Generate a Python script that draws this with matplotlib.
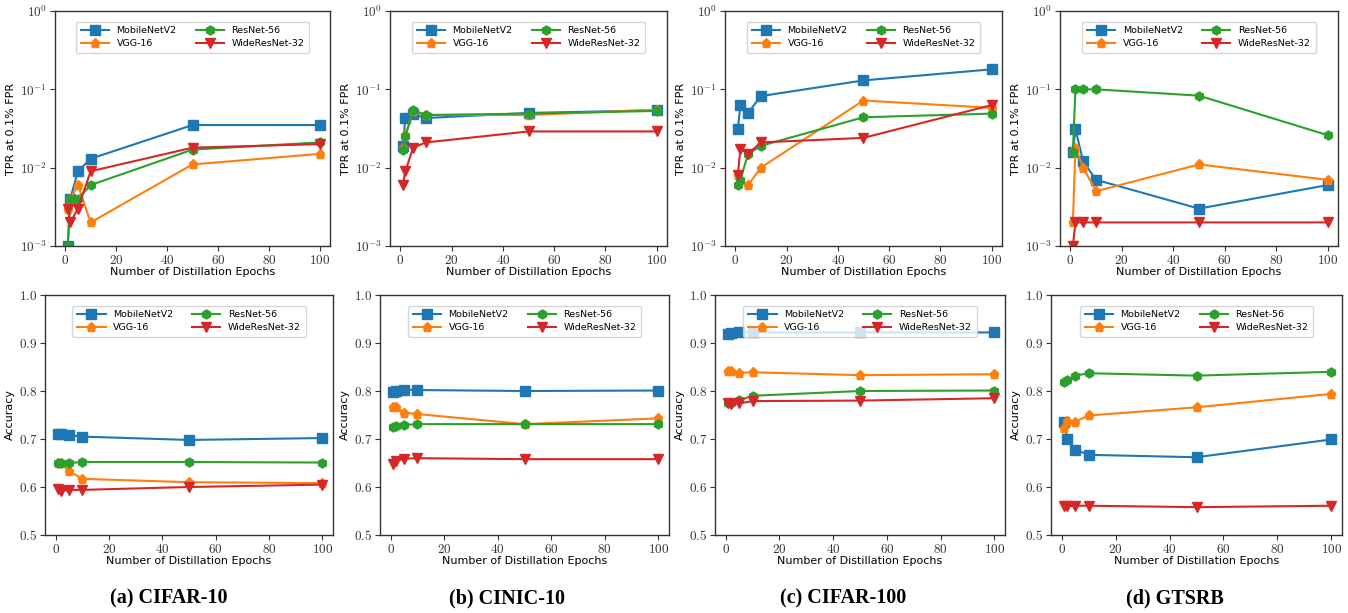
import math
import matplotlib
matplotlib.use("Agg")
import matplotlib.pyplot as plt
from matplotlib.ticker import FuncFormatter, LogLocator, NullLocator

plt.rcParams["mathtext.fontset"] = "cm"
plt.rcParams["font.family"] = "DejaVu Sans"

# Datos
epochs = [1, 2, 5, 10, 50, 100]
models = ["MobileNetV2", "VGG-16", "ResNet-56", "WideResNet-32"]
datasets = ["(a) CIFAR-10", "(b) CINIC-10", "(c) CIFAR-100", "(d) GTSRB"]

# TPR at 0.1% FPR
tpr_cifar10 = {
    "MobileNetV2": [0.001, 0.004, 0.009, 0.013, 0.035, 0.035],
    "VGG-16": [0.003, 0.004, 0.006, 0.002, 0.011, 0.015],
    "ResNet-56": [0.001, 0.004, 0.004, 0.006, 0.017, 0.021],
    "WideResNet-32": [0.003, 0.002, 0.003, 0.009, 0.018, 0.020],
}
tpr_cinic10 = {
    "MobileNetV2": [0.019, 0.043, 0.048, 0.043, 0.050, 0.054],
    "VGG-16": [0.018, 0.026, 0.053, 0.047, 0.047, 0.055],
    "ResNet-56": [0.017, 0.025, 0.054, 0.047, 0.049, 0.053],
    "WideResNet-32": [0.006, 0.009, 0.018, 0.021, 0.029, 0.029],
}
tpr_cifar100 = {
    "MobileNetV2": [0.031, 0.063, 0.050, 0.082, 0.130, 0.180],
    "VGG-16": [0.008, 0.007, 0.006, 0.010, 0.072, 0.058],
    "ResNet-56": [0.006, 0.007, 0.015, 0.019, 0.044, 0.049],
    "WideResNet-32": [0.008, 0.0175, 0.015, 0.021, 0.024, 0.063],
}
tpr_gtsrb = {
    "MobileNetV2": [0.016, 0.031, 0.012, 0.007, 0.003, 0.006],
    "VGG-16": [0.002, 0.018, 0.010, 0.005, 0.011, 0.007],
    "ResNet-56": [0.016, 0.100, 0.100, 0.100, 0.083, 0.026],
    "WideResNet-32": [0.001, 0.002, 0.002, 0.002, 0.002, 0.002],
}

# Accuracy
acc_cifar10 = {
    "MobileNetV2": [0.710, 0.710, 0.708, 0.705, 0.698, 0.702],
    "VGG-16": [0.649, 0.649, 0.633, 0.617, 0.610, 0.608],
    "ResNet-56": [0.650, 0.650, 0.650, 0.652, 0.652, 0.651],
    "WideResNet-32": [0.595, 0.592, 0.594, 0.594, 0.600, 0.605],
}
acc_cinic10 = {
    "MobileNetV2": [0.797, 0.800, 0.803, 0.802, 0.800, 0.801],
    "VGG-16": [0.767, 0.767, 0.755, 0.752, 0.731, 0.743],
    "ResNet-56": [0.724, 0.728, 0.729, 0.731, 0.731, 0.731],
    "WideResNet-32": [0.647, 0.654, 0.659, 0.660, 0.658, 0.658],
}
acc_cifar100 = {
    "MobileNetV2": [0.919, 0.920, 0.923, 0.922, 0.922, 0.922],
    "VGG-16": [0.842, 0.841, 0.838, 0.839, 0.833, 0.835],
    "ResNet-56": [0.776, 0.776, 0.781, 0.790, 0.800, 0.801],
    "WideResNet-32": [0.774, 0.772, 0.774, 0.779, 0.780, 0.785],
}
acc_gtsrb = {
    "MobileNetV2": [0.735, 0.699, 0.678, 0.667, 0.662, 0.699],
    "VGG-16": [0.722, 0.737, 0.736, 0.749, 0.766, 0.794],
    "ResNet-56": [0.818, 0.823, 0.832, 0.837, 0.832, 0.840],
    "WideResNet-32": [0.561, 0.560, 0.561, 0.561, 0.558, 0.561],
}

tpr_all = [tpr_cifar10, tpr_cinic10, tpr_cifar100, tpr_gtsrb]
acc_all = [acc_cifar10, acc_cinic10, acc_cifar100, acc_gtsrb]

colors = {"MobileNetV2": "#1f77b4", "VGG-16": "#ff7f0e",
          "ResNet-56": "#2ca02c", "WideResNet-32": "#d62728"}
markers = {"MobileNetV2": "s", "VGG-16": "p", "ResNet-56": "h", "WideResNet-32": "v"}

W, H = 1348, 613
fig = plt.figure(figsize=(W / 100, H / 100), dpi=100)

# posiciones de los ejes en pixeles
top_px = [(55, 330), (390, 667), (725, 1002), (1060, 1338)]
bot_px = [(45, 333), (380, 669), (715, 1005), (1051, 1342)]
caption_x = [169, 507, 843, 1175]


def px_axes(x0, x1, y0, y1):
    return fig.add_axes([x0 / W, 1 - y1 / H, (x1 - x0) / W, (y1 - y0) / H])


def style_axes(ax):
    for s in ax.spines.values():
        s.set_color("#333333")
        s.set_linewidth(1.0)
    ax.tick_params(colors="#333333", labelsize=9.5, length=3.5, pad=2)
    ax.xaxis.set_major_formatter(FuncFormatter(lambda v, p: r"$%d$" % v))
    ax.set_xlabel("Number of Distillation Epochs", fontsize=8, labelpad=0)
    ax.set_xlim(-4, 104)
    ax.set_xticks([0, 20, 40, 60, 80, 100])


def plot_lines(ax, data):
    for m in models:
        ax.plot(epochs, data[m], color=colors[m], marker=markers[m],
                markersize=6.5, linewidth=1.5, label=m)
    ax.legend(loc="upper center", ncol=2, fontsize=6.8, handlelength=3,
              columnspacing=2.0, borderpad=0.5, labelspacing=0.4,
              bbox_to_anchor=(0.5, 0.975))


for i in range(4):
    ax = px_axes(top_px[i][0], top_px[i][1], 11, 246)
    plot_lines(ax, tpr_all[i])
    ax.set_yscale("log")
    ax.set_ylim(1e-3, 1)
    ax.yaxis.set_major_locator(LogLocator(base=10, numticks=5))
    ax.yaxis.set_minor_locator(NullLocator())
    ax.yaxis.set_major_formatter(FuncFormatter(lambda v, p: r"$10^{%d}$" % round(math.log10(v))))
    ax.set_ylabel("TPR at 0.1% FPR", fontsize=8, labelpad=3)
    style_axes(ax)

    ax2 = px_axes(bot_px[i][0], bot_px[i][1], 295, 535)
    plot_lines(ax2, acc_all[i])
    ax2.set_ylim(0.5, 1.0)
    ax2.set_yticks([0.5, 0.6, 0.7, 0.8, 0.9, 1.0])
    ax2.yaxis.set_major_formatter(FuncFormatter(lambda v, p: r"$%.1f$" % v))
    ax2.set_ylabel("Accuracy", fontsize=8, labelpad=3)
    style_axes(ax2)

    fig.text(caption_x[i] / W, 1 - 598 / H, datasets[i], ha="center", va="center",
             fontsize=14.5, fontweight="bold", family="Liberation Serif")

fig.savefig("out.png", dpi=100)
